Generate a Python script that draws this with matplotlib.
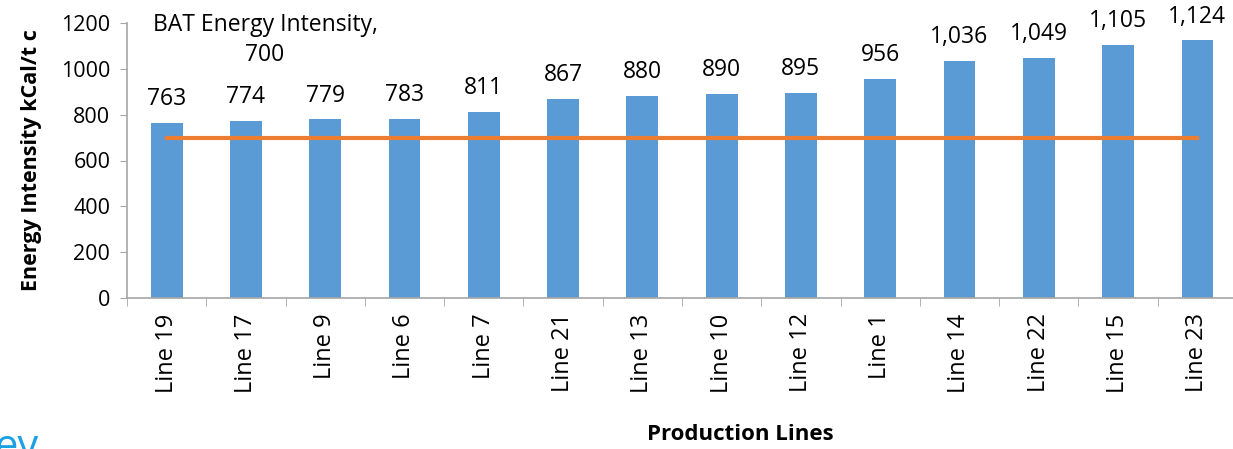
import matplotlib.pyplot as plt
import numpy as np

# data
lines = ['Line 19', 'Line 17', 'Line 9', 'Line 6', 'Line 7', 'Line 21', 'Line 13',
         'Line 10', 'Line 12', 'Line 1', 'Line 14', 'Line 22', 'Line 15', 'Line 23']
intensity = [763, 774, 779, 783, 811, 867, 880, 890, 895, 956, 1036, 1049, 1105, 1124]
bat_value = 700
bat = [bat_value] * len(lines)

plt.rcParams['font.family'] = ['Open Sans', 'DejaVu Sans']

fig = plt.figure(figsize=(12.33, 4.49), dpi=100)
ax = fig.add_axes([127 / 1233, 1 - 298 / 449, 1110 / 1233, 275 / 449])

x = np.arange(len(lines))
ax.bar(x, intensity, width=0.4, color='#5B9BD5', zorder=2)
ax.plot(x, bat, color='#ED7D31', linewidth=3, zorder=3)

# data labels
for xi, v in zip(x, intensity):
    ax.text(xi, v + 78, f'{v:,}', ha='center', va='baseline', fontsize=16.5, clip_on=False)
ax.text(1.24, 1126, 'BAT Energy Intensity,\n' + str(bat_value), ha='center', va='center',
        fontsize=16.5, linespacing=1.3, clip_on=False)

ax.set_xlim(-0.5, len(lines) - 0.5)
ax.set_ylim(0, 1200)
ax.set_yticks(range(0, 1201, 200))
ax.tick_params(axis='y', labelsize=15.5, length=5, color='#A6A6A6', pad=7)

ax.set_xticks(x)
ax.set_xticklabels(lines, rotation=90, fontsize=17)
ax.set_xticks(np.arange(-0.5, len(lines)), minor=True)
ax.tick_params(axis='x', which='major', length=0, pad=11)
ax.tick_params(axis='x', which='minor', length=6, color='#A6A6A6')

for s in ['top', 'right']:
    ax.spines[s].set_visible(False)
for s in ['left', 'bottom']:
    ax.spines[s].set_color('#A6A6A6')
    ax.spines[s].set_linewidth(1.2)

ax.set_ylabel('Energy Intensity kCal/t c', fontsize=15.5, fontweight='bold', labelpad=14)
fig.text(740 / 1233, 1 - 435 / 449, 'Production Lines', ha='center', va='center',
         fontsize=16, fontweight='bold')

# slide remnant in the corner
fig.text(-0.004, -0.045, 'ey', color='#1BA1E2', fontsize=30, ha='left', va='bottom')

fig.savefig('out.png', dpi=100)
